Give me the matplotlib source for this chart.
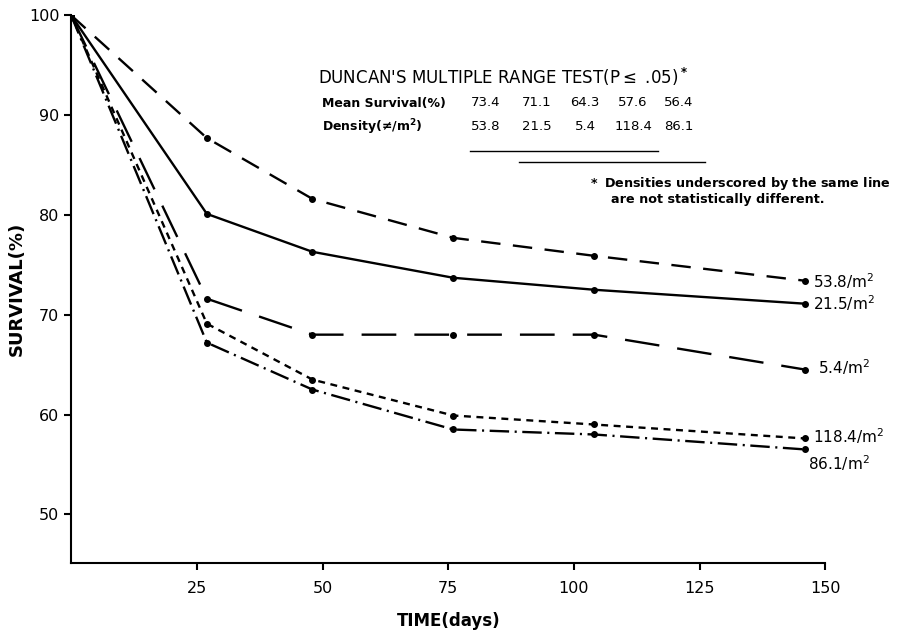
import matplotlib
matplotlib.use("Agg")
import matplotlib.pyplot as plt

plt.rcParams['font.family'] = ['DejaVu Sans']
plt.rcParams['lines.scale_dashes'] = False

# days sampled
days = [0, 27, 48, 76, 104, 146]

# survival (%) per density
s_53_8 = [100, 87.7, 81.6, 77.7, 75.9, 73.4]
s_21_5 = [100, 80.1, 76.3, 73.7, 72.5, 71.1]
s_5_4 = [100, 71.6, 68.0, 68.0, 68.0, 64.5]
s_118_4 = [100, 69.1, 63.5, 59.9, 59.0, 57.6]
s_86_1 = [100, 67.2, 62.5, 58.5, 58.0, 56.5]

end_labels = ["53.8/m$^2$", "21.5/m$^2$", "5.4/m$^2$", "118.4/m$^2$", "86.1/m$^2$"]

mean_surv = ["73.4", "71.1", "64.3", "57.6", "56.4"]
dens_vals = ["53.8", "21.5", "5.4", "118.4", "86.1"]

fig = plt.figure(figsize=(9, 6.35), dpi=100)
ax = fig.add_axes([0.079, 0.113, 0.838, 0.863])

lw = 1.7
ax.plot(days, s_53_8, color='black', lw=lw, ls=(0, (14, 9)), marker='o', ms=4)
ax.plot(days, s_21_5, color='black', lw=lw, ls='-', marker='o', ms=4)
ax.plot(days, s_5_4, color='black', lw=lw, ls=(0, (25, 13)), marker='o', ms=4)
ax.plot(days, s_118_4, color='black', lw=lw, ls=(0, (5, 4)), marker='o', ms=4)
ax.plot(days, s_86_1, color='black', lw=lw, ls=(0, (14, 4, 1.5, 4)), marker='o', ms=4)

# labels at line ends
lab_y = [73.4, 71.2, 64.7, 57.8, 55.1]
lab_x = [147.5, 147.5, 148.5, 147.5, 146.5]
for x, y, t in zip(lab_x, lab_y, end_labels):
    ax.text(x, y, t, fontsize=11, va='center', ha='left')

ax.set_xlim(0, 150)
ax.set_ylim(45.1, 100)
ax.set_xticks([25, 50, 75, 100, 125, 150])
ax.set_yticks([50, 60, 70, 80, 90, 100])
ax.tick_params(labelsize=11.5, width=1.5, length=5, direction='out')
ax.tick_params(axis='x', pad=8)
ax.spines['top'].set_visible(False)
ax.spines['right'].set_visible(False)
ax.spines['left'].set_linewidth(1.5)
ax.spines['bottom'].set_linewidth(1.5)
ax.set_xlabel("TIME(days)", fontsize=12, fontweight='bold', labelpad=11)
ax.set_ylabel("SURVIVAL(%)", fontsize=13, fontweight='bold', labelpad=2)

# Duncan's test table
fig.text(318 / 900, 1 - 77 / 635, "DUNCAN'S MULTIPLE RANGE TEST(P$\\leq$ .05)$^{\\bf *}$",
         fontsize=12, va='center', ha='left')
fig.text(322 / 900, 1 - 103 / 635, "Mean Survival(%)", fontsize=9, fontweight='bold', va='center')
fig.text(322 / 900, 1 - 127 / 635, "Density(\u2260/m$^\\mathbf{2}$)", fontsize=9, fontweight='bold', va='center')
col_x = [486, 537, 585, 633, 679]
for x, m, d in zip(col_x, mean_surv, dens_vals):
    fig.text(x / 900, 1 - 103 / 635, m, fontsize=9.5, ha='center', va='center')
    fig.text(x / 900, 1 - 127 / 635, d, fontsize=9.5, ha='center', va='center')
fig.add_artist(plt.Line2D([470 / 900, 658 / 900], [1 - 151 / 635] * 2, color='black', lw=1))
fig.add_artist(plt.Line2D([519 / 900, 705 / 900], [1 - 162 / 635] * 2, color='black', lw=1))
fig.text(588 / 900, 1 - 183 / 635, "$\\bf *$ Densities underscored by the same line",
         fontsize=9.2, fontweight='bold', va='center')
fig.text(611 / 900, 1 - 200 / 635, "are not statistically different.",
         fontsize=9.2, fontweight='bold', va='center')

fig.savefig("out.png", dpi=100)
